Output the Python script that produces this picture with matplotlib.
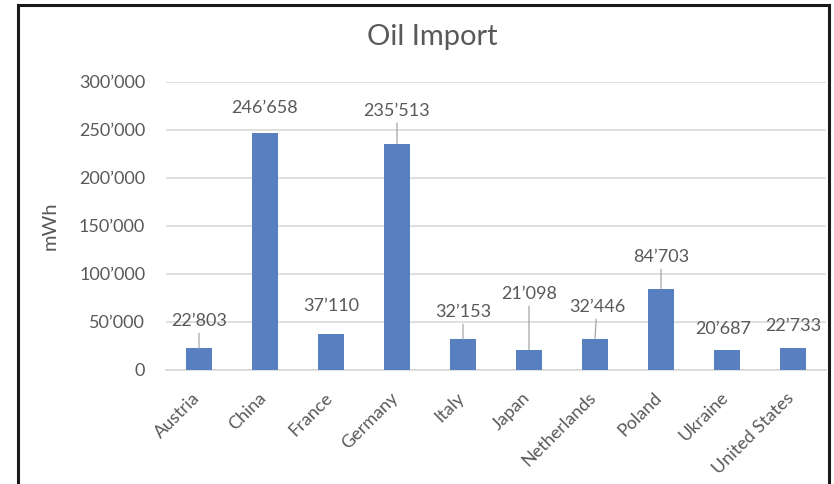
import matplotlib.pyplot as plt
from matplotlib.lines import Line2D
from matplotlib.transforms import ScaledTranslation

countries = ["Austria", "China", "France", "Germany", "Italy", "Japan",
             "Netherlands", "Poland", "Ukraine", "United States"]
imports = [22803, 246658, 37110, 235513, 32153, 21098, 32446, 84703, 20687, 22733]

# where Excel put the data labels (value units) and whether a leader line shows
label_y = [51000, 273000, 66700, 270000, 60400, 79200, 65600, 117700, 42700, 45800]
label_dx = [0, 0, 0, 0, 0, 0, 0.03, 0, -0.06, 0]
leader = [True, False, False, True, True, True, True, True, False, False]

yticks = [0, 50000, 100000, 150000, 200000, 250000, 300000]

def fmt(v):
    return f"{v:,}".replace(",", "\u2019")

plt.rcParams['font.family'] = ['Lato', 'DejaVu Sans']
txt = '#595959'
grid = '#d9d9d9'

fig = plt.figure(figsize=(8.34, 4.84), dpi=100)
ax = fig.add_axes([166/834, 114/484, 660/834, 288/484])

x = range(len(countries))
ax.bar(x, imports, width=0.4, color='#5880C1', zorder=3)
ax.set_xlim(-0.5, len(countries) - 0.5)
ax.set_ylim(0, 300000)
ax.set_yticks(yticks)
ax.set_yticklabels([fmt(t) for t in yticks])
ax.yaxis.grid(True, color=grid, lw=1.2, zorder=0)
for s in ['top', 'right', 'left']:
    ax.spines[s].set_visible(False)
ax.spines['bottom'].set_color(grid)
ax.spines['bottom'].set_linewidth(1.2)
ax.tick_params(axis='y', length=0, pad=15, labelsize=13, labelcolor=txt)
ax.tick_params(axis='x', length=0, pad=14, labelsize=13, labelcolor=txt)
ax.set_xticks(list(x))
ax.set_xticklabels(countries, rotation=45, ha='right', rotation_mode='anchor')
shift = ScaledTranslation(-7/100, 0, fig.dpi_scale_trans)
for lab in ax.get_xticklabels():
    lab.set_transform(lab.get_transform() + shift)

for i, v in enumerate(imports):
    ap = dict(arrowstyle='-', color='#a6a6a6', lw=0.9, shrinkA=1, shrinkB=0) if leader[i] else None
    ax.annotate(fmt(v), xy=(i, v), xytext=(i + label_dx[i], label_y[i]),
                ha='center', va='center', fontsize=13, color=txt,
                arrowprops=ap, zorder=4)

ax.set_ylabel("mWh", fontsize=14.5, color=txt)
ax.yaxis.set_label_coords(-0.162, 0.5)
fig.text(432/834, 1 - 37/484, "Oil Import", ha='center', va='center',
         fontsize=21, color=txt)

# chart frame (open at the bottom, like the cropped screenshot)
xl, xr, yt = 18/834, 829/834, 1 - 5/484
fig.add_artist(Line2D([xl, xl, xr, xr], [0, yt, yt, 0], transform=fig.transFigure,
                      color='#1a1a1a', lw=2.2, solid_joinstyle='miter'))

fig.savefig("out.png", dpi=100)
